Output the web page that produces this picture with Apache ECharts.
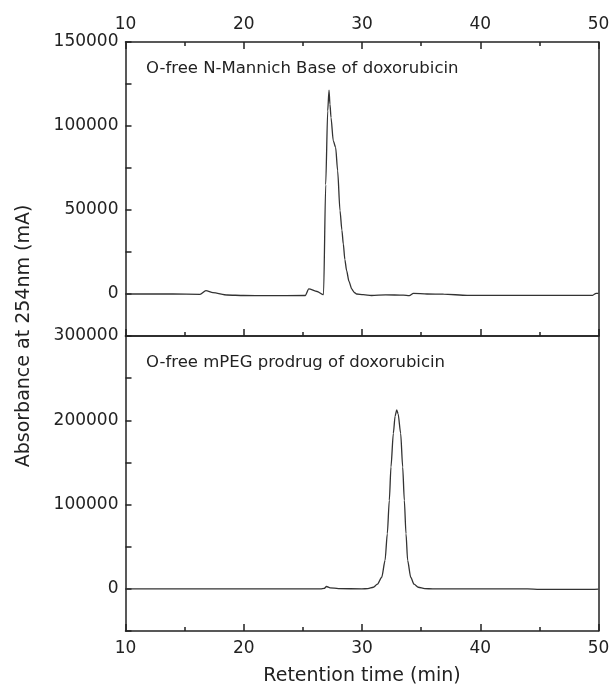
<!DOCTYPE html>
<html>
<head>
<meta charset="utf-8">
<script src="https://cdn.jsdelivr.net/npm/echarts@6/dist/echarts.min.js"></script>
<style>
html,body{margin:0;padding:0;background:#fff;}
#chart{width:611px;height:693px;}
</style>
</head>
<body>
<div id="chart"></div>
<script>
// Top panel: O-free N-Mannich Base of doxorubicin
var topTime = [10, 14, 16.3, 16.8, 17.4, 18.6, 20, 22, 25.2, 25.5, 26.2, 26.7, 26.75, 26.93, 27.1, 27.21, 27.29, 27.38, 27.57, 27.77, 27.94, 28.14, 28.3, 28.42, 28.55, 28.7, 28.9, 29.13, 29.35, 29.55, 30.1, 30.8, 32, 33.5, 34.0, 34.35, 35.5, 36.9, 38.9, 44, 49.5, 49.8, 50];
var topAbs  = [0, 0, -200, 2000, 800, -600, -900, -1000, -900, 3000, 1500, -400, 0, 65000, 109000, 121400, 113000, 105000, 91200, 87300, 73400, 49600, 38000, 29750, 20500, 13900, 7500, 3000, 900, 0, -400, -900, -500, -700, -1000, 400, 0, -100, -800, -800, -800, 400, 400];
// Bottom panel: O-free mPEG prodrug of doxorubicin
var botTime = [10, 15, 20, 26.5, 26.8, 27.0, 27.3, 28, 30, 30.5, 30.96, 31.3, 31.67, 31.95, 32.14, 32.31, 32.45, 32.65, 32.8, 32.93, 33.05, 33.27, 33.44, 33.58, 33.72, 33.86, 34.12, 34.4, 34.76, 35.3, 36, 44, 45, 49, 50];
var botAbs  = [0, 0, 0, 0, 500, 2800, 1200, 300, 0, 200, 1900, 5500, 13800, 33700, 65500, 105000, 144700, 184500, 205000, 212200, 208000, 184500, 144700, 105000, 65500, 33700, 13800, 5500, 1900, 300, 0, 0, -700, -700, -300];

var topLabel = 'O-free N-Mannich Base of doxorubicin';
var botLabel = 'O-free mPEG prodrug of doxorubicin';
var xTitle = 'Retention time (min)';
var yTitle = 'Absorbance at 254nm (mA)';

function pairs(xs, ys){ var out=[]; for(var i=0;i<xs.length;i++) out.push([xs[i], ys[i]]); return out; }

var FONT = 'DejaVu Sans';
var AX = {color:'#222', width:1.5};
var TXT = '#222';

var chart = echarts.init(document.getElementById('chart'), null, {renderer:'canvas'});
var xBase = {type:'value', min:10, max:50, interval:10, splitLine:{show:false},
  axisLine:{show:true, onZero:false, lineStyle:AX},
  axisTick:{show:true, inside:true, length:7, lineStyle:AX},
  minorTick:{show:true, splitNumber:2, length:4, lineStyle:AX},
  axisLabel:{show:true, margin:9, fontSize:17, fontFamily:FONT, color:TXT}};
function X(extra){ return Object.assign({}, JSON.parse(JSON.stringify(xBase)), extra); }

chart.setOption({
  animation:false,
  backgroundColor:'#fff',
  grid:[
    {left:125.5, top:42, width:473, height:294, outerBoundsMode:'none', containLabel:false},
    {left:125.5, top:336, width:473, height:295, outerBoundsMode:'none', containLabel:false}
  ],
  title:[
    {text:topLabel, left:146, top:60, padding:0, textStyle:{fontSize:16.5, fontWeight:'normal', fontFamily:FONT, color:TXT}},
    {text:botLabel, left:146, top:354, padding:0, textStyle:{fontSize:16.5, fontWeight:'normal', fontFamily:FONT, color:TXT}}
  ],
  xAxis:[
    X({gridIndex:0, position:'top'}),
    X({gridIndex:0, position:'bottom', axisLabel:{show:false}}),
    X({gridIndex:1, position:'top', axisTick:{show:false}, minorTick:{show:false}, axisLabel:{show:false}}),
    X({gridIndex:1, position:'bottom', name:xTitle, nameLocation:'middle', nameGap:36,
       nameTextStyle:{fontSize:19, fontFamily:FONT, color:TXT}})
  ],
  yAxis:[
    {gridIndex:0, type:'value', position:'left', min:-25000, max:150000, interval:25000, splitLine:{show:false},
     axisLine:{show:true, onZero:false, lineStyle:AX}, axisTick:{show:true, inside:true, length:6, lineStyle:AX},
     axisLabel:{margin:7, fontSize:17, fontFamily:FONT, color:TXT, formatter:function(v){ return v % 50000 === 0 && v >= 0 ? String(v) : ''; }}},
    {gridIndex:0, type:'value', position:'right', min:-25000, max:150000, splitLine:{show:false},
     axisLine:{show:true, onZero:false, lineStyle:AX}, axisTick:{show:false}, axisLabel:{show:false}},
    {gridIndex:1, type:'value', position:'left', min:-50000, max:300000, interval:50000, splitLine:{show:false},
     axisLine:{show:true, onZero:false, lineStyle:AX}, axisTick:{show:true, inside:true, length:6, lineStyle:AX},
     axisLabel:{margin:7, fontSize:17, fontFamily:FONT, color:TXT, formatter:function(v){ return v % 100000 === 0 && v >= 0 ? String(v) : ''; }}},
    {gridIndex:1, type:'value', position:'right', min:-50000, max:300000, splitLine:{show:false},
     axisLine:{show:true, onZero:false, lineStyle:AX}, axisTick:{show:false}, axisLabel:{show:false}}
  ],
  graphic:[
    {type:'text', x:24, y:336, rotation:Math.PI/2,
     style:{text:yTitle, fontSize:19, fontFamily:FONT, fill:TXT, textAlign:'center', textVerticalAlign:'middle'}}
  ],
  series:[
    {type:'line', xAxisIndex:0, yAxisIndex:0, data:pairs(topTime, topAbs), showSymbol:false, smooth:0.25, smoothMonotone:'x',
     lineStyle:{color:'#333', width:1.3}},
    {type:'line', xAxisIndex:3, yAxisIndex:2, data:pairs(botTime, botAbs), showSymbol:false, smooth:0.25, smoothMonotone:'x',
     lineStyle:{color:'#333', width:1.3}}
  ]
});
</script>
</body>
</html>
